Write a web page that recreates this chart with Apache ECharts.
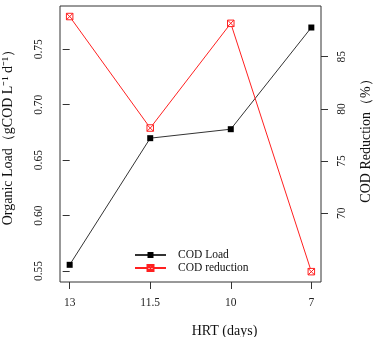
<!DOCTYPE html>
<html>
<head>
<meta charset="utf-8">
<script src="https://cdn.jsdelivr.net/npm/echarts@6/dist/echarts.min.js"></script>
<style>
  html, body { margin: 0; padding: 0; background: #fff; }
  #chart { width: 373px; height: 337px; }
</style>
</head>
<body>
<div id="chart"></div>
<script>
// HRT categories (x axis) and the two series
const hrtDays = ['13', '11.5', '10', '7']
const codLoad = [0.5556, 0.6698, 0.6779, 0.7696]
const codReduction = [88.85, 78.17, 88.2, 64.41]
const loadTicks = [0.55, 0.6, 0.65, 0.7, 0.75]
const reductionTicks = [70, 75, 80, 85]

const serif = 'Liberation Serif, Times New Roman, serif'
const chart = echarts.init(document.getElementById('chart'), null, { renderer: 'canvas' })

const tickLabel = { fontFamily: serif, fontSize: 11.5, color: '#222' }
const tick = { show: true, inside: false, length: 7, lineStyle: { color: '#333', width: 1 } }

chart.setOption({
  animation: false,
  grid: {
    left: 60, top: 6, width: 261, height: 276,
    show: true, borderColor: '#333', borderWidth: 1, backgroundColor: 'transparent'
  },
  xAxis: {
    type: 'value',
    min: -0.12,
    max: 3.12,
    splitLine: { show: false },
    axisLine: { show: false },
    axisTick: { ...tick, customValues: [0, 1, 2, 3] },
    axisLabel: {
      ...tickLabel,
      margin: 15,
      customValues: [0, 1, 2, 3],
      formatter: (v) => hrtDays[Math.round(v)]
    }
  },
  yAxis: [
    {
      type: 'value',
      position: 'left',
      min: 0.5401,
      max: 0.789,
      splitLine: { show: false },
      axisLine: { show: false },
      axisTick: { ...tick, customValues: loadTicks },
      axisLabel: {
        ...tickLabel,
        rotate: 90,
        margin: 15,
        customValues: loadTicks,
        formatter: (v) => v.toFixed(2)
      }
    },
    {
      type: 'value',
      position: 'right',
      min: 63.42,
      max: 89.86,
      splitLine: { show: false },
      axisLine: { show: false },
      axisTick: { ...tick, customValues: reductionTicks },
      axisLabel: {
        ...tickLabel,
        rotate: 90,
        margin: 15,
        customValues: reductionTicks,
        formatter: (v) => String(Math.round(v))
      }
    }
  ],
  legend: {
    left: 134,
    top: 248.5,
    orient: 'vertical',
    padding: 0,
    itemWidth: 31,
    itemHeight: 7.5,
    itemGap: 0,
    textStyle: { fontFamily: serif, fontSize: 11.5, color: '#111', lineHeight: 13, padding: [0, 0, 0, 7] },
    data: ['COD Load', 'COD reduction']
  },
  graphic: [
    {
      type: 'text', x: 8, y: 134, rotation: Math.PI / 2,
      style: {
        text: 'Organic Load（gCOD L⁻¹ d⁻¹）', fontFamily: serif, fontSize: 14,
        fill: '#111', align: 'center', verticalAlign: 'middle'
      }
    },
    {
      type: 'text', x: 366, y: 137.5, rotation: Math.PI / 2,
      style: {
        text: 'COD Reduction（%）', fontFamily: serif, fontSize: 14,
        fill: '#111', align: 'center', verticalAlign: 'middle'
      }
    },
    {
      type: 'text', x: 224.5, y: 331,
      style: {
        text: 'HRT (days)', fontFamily: serif, fontSize: 14,
        fill: '#111', align: 'center', verticalAlign: 'middle'
      }
    }
  ],
  series: [
    {
      name: 'COD Load',
      type: 'line',
      yAxisIndex: 0,
      data: codLoad.map((v, i) => [i, v]),
      symbol: 'rect',
      symbolSize: 6,
      lineStyle: { color: '#333', width: 1 },
      itemStyle: { color: '#000' }
    },
    {
      name: 'COD reduction',
      type: 'line',
      yAxisIndex: 1,
      data: codReduction.map((v, i) => [i, v]),
      symbol: 'path://M0,0H10V10H0ZM0,0L10,10M10,0L0,10',
      symbolSize: 6.5,
      symbolKeepAspect: true,
      lineStyle: { color: '#ff2020', width: 1 },
      itemStyle: { color: '#fff', borderColor: '#ff2020', borderWidth: 1 }
    }
  ]
})
</script>
</body>
</html>
